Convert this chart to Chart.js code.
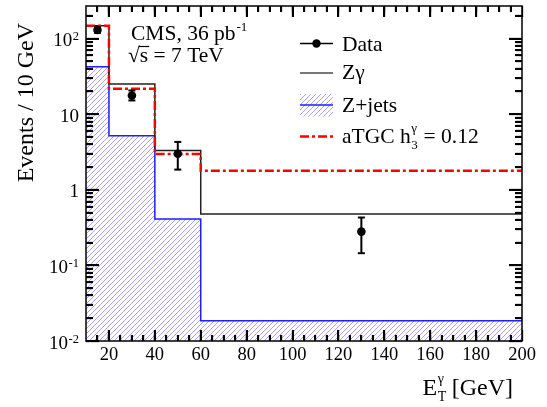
<!DOCTYPE html>
<html><head><meta charset="utf-8">
<script src="https://cdn.jsdelivr.net/npm/chart.js@4"></script>
<style>html,body{margin:0;padding:0;background:#fff}</style>
</head><body>
<canvas id="c" width="547" height="407" style="width:547px;height:407px;display:block"></canvas>
<script>
const binEdges = [10, 20, 40, 60, 200];
const zgammaValues = [148, 25, 3.3, 0.48];
const zjetsValues = [42.6, 5.2, 0.41, 0.0185];
const atgcValues = [148, 21.7, 2.97, 1.78];
const dataX = [15, 30, 50, 130];
const dataY = [130, 17.7, 3.0, 0.28];
const dataLow = [119, 15.2, 1.85, 0.145];
const dataHigh = [141, 20.6, 4.3, 0.43];
const xTickValues = [20, 40, 60, 80, 100, 120, 140, 160, 180, 200];
const xMinorTicks = [15, 20, 25, 30, 35, 40, 45, 50, 55, 60, 65, 70, 75, 80, 85, 90, 95, 100, 105, 110, 115, 120, 125, 130, 135, 140, 145, 150, 155, 160, 165, 170, 175, 180, 185, 190, 195];
const yMinorTicks = [0.02, 0.03, 0.04, 0.05, 0.06, 0.07, 0.08, 0.09, 0.2, 0.3, 0.4, 0.5, 0.6, 0.7, 0.8, 0.9, 2, 3, 4, 5, 6, 7, 8, 9, 20, 30, 40, 50, 60, 70, 80, 90, 200];
const yTickValues = [0.01, 0.1, 1, 10, 100];
const yTickBase = ['10', '10', '1', '10', '10'];
const yTickExp = ['-2', '-1', '', '', '2'];

const FONT = '"Liberation Serif", "DejaVu Serif", serif';
const canvas = document.getElementById('c');
const ctx = canvas.getContext('2d');

function histPoints(vals) {
  return binEdges.map((e, i) => ({ x: e, y: vals[Math.min(i, vals.length - 1)] }));
}
function makeHatch(target) {
  const c = document.createElement('canvas');
  c.width = 5; c.height = 5;
  const g = c.getContext('2d');
  g.strokeStyle = 'rgba(70,70,255,0.55)';
  g.lineWidth = 0.9;
  g.beginPath();
  g.moveTo(0, 5); g.lineTo(5, 0);
  g.moveTo(-1, 1); g.lineTo(1, -1);
  g.moveTo(4, 6); g.lineTo(6, 4);
  g.stroke();
  return target.createPattern(c, 'repeat');
}
const hatch = makeHatch(ctx);

function seg(g, x1, y1, x2, y2) {
  g.beginPath(); g.moveTo(x1, y1); g.lineTo(x2, y2); g.stroke();
}

function tickAxis(type, position, values, len, weight, min, max) {
  return {
    type: type, position: position, min: min, max: max, weight: weight, display: true,
    afterBuildTicks(s) { s.ticks = values.map(v => ({ value: v })); },
    ticks: { display: false },
    grid: { display: true, drawOnChartArea: false, drawTicks: true, tickLength: -len,
            tickColor: '#000', tickWidth: 1.3, z: 2 },
    border: { display: false },
    afterFit(s) { if (position === 'top' || position === 'bottom') s.height = 0; else s.width = 0; }
  };
}

const overlay = {
  id: 'overlay',
  afterDatasetsDraw(chart) {
    const g = chart.ctx, xs = chart.scales.x, ys = chart.scales.y;
    g.save();
    g.setLineDash([]);
    g.strokeStyle = '#000'; g.lineWidth = 2;
    for (let i = 0; i < dataX.length; i++) {
      const px = xs.getPixelForValue(dataX[i]);
      const p1 = ys.getPixelForValue(dataLow[i]);
      const p2 = ys.getPixelForValue(dataHigh[i]);
      seg(g, px, p1, px, p2);
      seg(g, px - 3.5, p1, px + 3.5, p1);
      seg(g, px - 3.5, p2, px + 3.5, p2);
    }
    g.restore();
  },
  afterDraw(chart) {
    const g = chart.ctx, xs = chart.scales.x, ys = chart.scales.y, a = chart.chartArea;
    g.save();
    g.setLineDash([]);
    g.strokeStyle = '#000'; g.fillStyle = '#000';
    g.lineWidth = 1.5;
    g.strokeRect(a.left, a.top, a.right - a.left, a.bottom - a.top);
    // inward tick marks (integer aligned)
    const L = Math.round(a.left), R = Math.round(a.right), T = Math.round(a.top), B = Math.round(a.bottom);
    xMinorTicks.forEach(v => {
      const px = Math.round(xs.getPixelForValue(v));
      const len = (v % 20 === 0) ? 11 : 6;
      g.fillRect(px - 1, B - len, 2, len);
      g.fillRect(px - 1, T, 2, len);
    });
    yTickValues.concat(yMinorTicks).forEach(v => {
      const py = Math.round(ys.getPixelForValue(v));
      const len = yTickValues.indexOf(v) >= 0 ? 13 : 7;
      g.fillRect(L, py - 1, len, 2);
      g.fillRect(R - len, py - 1, len, 2);
    });
    // x tick labels
    g.font = '18.5px ' + FONT;
    g.textAlign = 'center'; g.textBaseline = 'alphabetic';
    xTickValues.forEach(v => g.fillText(String(v), xs.getPixelForValue(v), 360));
    // y tick labels
    yTickValues.forEach((v, i) => {
      const py = ys.getPixelForValue(v);
      const right = 79;
      g.font = '12.5px ' + FONT;
      const ew = yTickExp[i] ? g.measureText(yTickExp[i]).width : 0;
      g.textAlign = 'right';
      if (yTickExp[i]) g.fillText(yTickExp[i], right, py + 1.5);
      g.font = '19px ' + FONT;
      g.fillText(yTickBase[i], right - ew - (ew ? 0.5 : 0), py + 7.5);
    });
    // y title
    g.save();
    g.translate(33, 23);
    g.rotate(-Math.PI / 2);
    g.font = '24px ' + FONT;
    g.textAlign = 'right';
    g.fillText('Events / 10 GeV', 0, 0);
    g.restore();
    // x title
    g.textAlign = 'left';
    g.font = '24px ' + FONT;
    const wE = g.measureText('E').width;
    const wG = g.measureText(' [GeV]').width;
    g.font = '14px ' + FONT;
    const wS = Math.max(g.measureText('T').width, g.measureText('γ').width);
    const x0 = 513 - wE - wS - wG;
    g.font = '24px ' + FONT;
    g.fillText('E', x0, 395);
    g.font = '14px ' + FONT;
    g.fillText('T', x0 + wE + 0.5, 401);
    g.fillText('γ', x0 + wE + 0.5, 383);
    g.font = '24px ' + FONT;
    g.fillText(' [GeV]', x0 + wE + wS, 395);
    // CMS text
    g.font = '21.5px ' + FONT;
    g.fillText('CMS, 36 pb', 131, 39.5);
    const wc = g.measureText('CMS, 36 pb').width;
    g.font = '13px ' + FONT;
    g.fillText('-1', 131 + wc + 1, 31);
    g.font = '21.5px ' + FONT;
    const wr = g.measureText('√').width;
    g.fillText('√', 128, 62);
    g.fillText('s = 7 TeV', 128 + wr, 62);
    const ws = g.measureText('s').width;
    g.lineWidth = 1.2;
    seg(g, 128 + wr - 1, 46.5, 128 + wr + ws + 1, 46.5);
    // legend
    const lx1 = 300, lx2 = 333, tx = 342;
    g.strokeStyle = '#000'; g.lineWidth = 1.5;
    seg(g, lx1, 43.5, lx2, 43.5);
    g.beginPath(); g.arc(316.5, 43.5, 4.2, 0, Math.PI * 2); g.fill();
    g.font = '21.5px ' + FONT;
    g.fillText('Data', tx, 50.7);
    g.strokeStyle = '#777'; g.lineWidth = 2;
    seg(g, lx1, 73, lx2, 73);
    g.fillText('Zγ', tx, 78.5);
    g.fillStyle = hatch;
    g.fillRect(lx1, 94, lx2 - lx1, 22.5);
    g.strokeStyle = 'rgb(30,30,255)'; g.lineWidth = 1.5;
    seg(g, lx1, 105, lx2, 105);
    g.fillStyle = '#000';
    g.fillText('Z+jets', tx, 111.7);
    g.strokeStyle = '#ff0000'; g.lineWidth = 2.5;
    g.setLineDash([9, 3, 3, 3]);
    seg(g, lx1, 136.5, lx2, 136.5);
    g.setLineDash([]);
    g.fillText('aTGC h', tx, 142.7);
    const wa = g.measureText('aTGC h').width;
    g.font = '13px ' + FONT;
    g.fillText('3', tx + wa + 0.5, 149);
    g.fillText('γ', tx + wa + 0.5, 132);
    const wsub = Math.max(g.measureText('3').width, g.measureText('γ').width);
    g.font = '21.5px ' + FONT;
    g.fillText(' = 0.12', tx + wa + wsub + 1, 142.7);
    g.restore();
  }
};

const xMain = tickAxis('linear', 'bottom', xTickValues, 11, 1, 10, 200);
xMain.afterFit = function (s) { s.height = 66; };
const yMain = tickAxis('logarithmic', 'left', yTickValues, 13, 1, 0.01, 270);
yMain.afterFit = function (s) { s.width = 86; };

new Chart(ctx, {
  type: 'line',
  data: {
    datasets: [
      { label: 'Data', data: dataX.map((x, i) => ({ x: x, y: dataY[i] })), showLine: false,
        pointRadius: 4.3, pointHoverRadius: 4.3, pointBackgroundColor: '#000', pointBorderColor: '#000',
        pointBorderWidth: 0, order: 0 },
      { label: 'aTGC', data: histPoints(atgcValues), stepped: 'before', borderColor: '#ff0000',
        borderWidth: 2.5, borderDash: [9, 3, 3, 3], pointRadius: 0, fill: false, order: 1 },
      { label: 'Zgamma', data: histPoints(zgammaValues), stepped: 'before', borderColor: '#222',
        borderWidth: 1.5, pointRadius: 0, fill: false, order: 2 },
      { label: 'Z+jets', data: histPoints(zjetsValues), stepped: 'before', borderColor: 'rgb(30,30,255)',
        borderWidth: 1.5, pointRadius: 0, fill: 'start', backgroundColor: hatch, order: 3 }
    ]
  },
  options: {
    responsive: false,
    animation: false,
    devicePixelRatio: 1,
    layout: { padding: { top: 6, right: 25, left: 0, bottom: 0 } },
    plugins: { legend: { display: false }, tooltip: { enabled: false } },
    scales: {
      x: xMain,
      xMinor: tickAxis('linear', 'bottom', xMinorTicks, 6, 0, 10, 200),
      xTop: tickAxis('linear', 'top', xTickValues, 11, 0, 10, 200),
      xTopMinor: tickAxis('linear', 'top', xMinorTicks, 6, 0, 10, 200),
      y: yMain,
      yMinor: tickAxis('logarithmic', 'left', yMinorTicks, 6.5, 0, 0.01, 270),
      yRight: tickAxis('logarithmic', 'right', yTickValues, 13, 0, 0.01, 270),
      yRightMinor: tickAxis('logarithmic', 'right', yMinorTicks, 6.5, 0, 0.01, 270)
    }
  },
  plugins: [overlay]
});
</script>
</body></html>
